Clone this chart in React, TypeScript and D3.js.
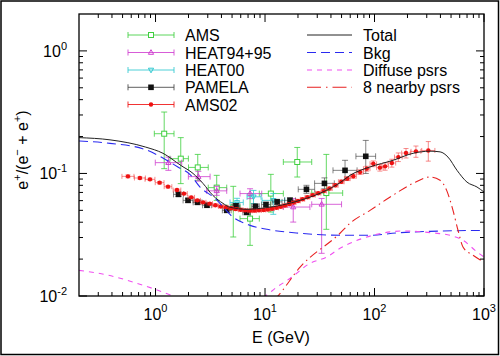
import React from 'react';
import * as d3 from 'd3';

// ---------- data ----------
// model curves: [E (GeV), e+/(e- + e+)]
const totalCurve: [number, number][] = [
  [0.2, 0.196], [0.384, 0.188], [0.814, 0.164], [1.17, 0.146], [1.71, 0.116], [2.2, 0.1],
  [2.71, 0.083], [3.35, 0.066], [4.13, 0.057], [4.79, 0.053], [6.85, 0.051], [10, 0.0524],
  [20.9, 0.0603], [36.6, 0.073], [48.4, 0.084], [59.7, 0.0965], [91, 0.113], [147.5, 0.128],
  [225, 0.146], [321, 0.152], [397, 0.15], [469, 0.136], [567, 0.106], [699, 0.085],
  [863, 0.0775], [1000, 0.0705],
];
const bkgCurve: [number, number][] = [
  [0.2, 0.184], [0.384, 0.176], [0.8, 0.157], [1.6, 0.113], [2.07, 0.098], [2.55, 0.0775],
  [3.5, 0.0626], [5.1, 0.044], [7.3, 0.0377], [10.4, 0.035], [20.9, 0.0325], [48.4, 0.0313],
  [91, 0.0313], [160, 0.0327], [321, 0.0337], [1000, 0.0343],
];
const diffuseCurve: [number, number][] = [
  [0.2, 0.0162], [0.367, 0.0148], [0.8, 0.0121], [1.22, 0.0106], [1.6, 0.0097], [3, 0.0085],
  [5, 0.0085], [9.6, 0.00977], [12.8, 0.0118], [16.9, 0.0139], [25.8, 0.0185], [36.6, 0.0208],
  [48.4, 0.0245], [59.7, 0.0269], [96.8, 0.0313], [182, 0.0339], [342, 0.0327], [489, 0.0313],
  [643, 0.0285], [863, 0.0229], [1000, 0.0208],
];
const nearbyCurve: [number, number][] = [
  [9, 0.0075], [12.8, 0.00977], [20.9, 0.0172], [48.4, 0.0325], [59.7, 0.0392], [91, 0.05],
  [139, 0.0642], [225, 0.083], [321, 0.0935], [397, 0.0879], [456, 0.0728], [521, 0.05],
  [579, 0.0344], [643, 0.0251], [794, 0.0215], [1000, 0.0189],
];

// data sets: [E, value, Elo, Ehi, vlo, vhi]
const amsData: number[][] = [
  [1.2, 0.211, 0.975, 1.475, 0.1094, 0.317],
  [1.7, 0.132, 1.356, 1.995, 0.0826, 0.196],
  [2.43, 0.112, 2.0, 3.03, 0.0879, 0.143],
  [3.62, 0.0766, 3.03, 4.47, 0.0603, 0.0965],
  [5.13, 0.0529, 4.47, 5.91, 0.0303, 0.0785],
  [7.3, 0.0428, 5.91, 8.87, 0.0259, 0.0685],
  [11.3, 0.0685, 8.87, 14.7, 0.0484, 0.0983],
  [19.7, 0.124, 14.7, 26.7, 0.0935, 0.163],
  [36.3, 0.0692, 26.7, 51.2, 0.035, 0.143],
];
const heat9495Data: number[][] = [
  [1.31, 0.1225, 0.995, 1.735, 0.106, 0.136],
  [2.46, 0.0942, 1.995, 3.15, 0.0866, 0.104],
  [3.62, 0.0721, 2.93, 4.47, 0.0663, 0.0785],
  [7.3, 0.0685, 5.91, 9.33, 0.0623, 0.075],
  [18.1, 0.0532, 14.7, 25.7, 0.0401, 0.0623],
  [32.9, 0.056, 26.7, 50, 0.0223, 0.0625],
];
const heat00Data: number[][] = [
  [5.55, 0.058, 4.79, 6.33, 0.0538, 0.0627],
  [7.85, 0.0645, 6.85, 9.2, 0.0568, 0.0727],
  [11.9, 0.0603, 9.4, 15.2, 0.0464, 0.0687],
];
// PAMELA: [E, value, log10 half-width, vlo, vhi]
const pamelaData: number[][] = [
  [1.62, 0.0675, 0.045, 0.065, 0.07],
  [1.98, 0.0603, 0.045, 0.058, 0.0627],
  [2.42, 0.0581, 0.04, 0.056, 0.0603],
  [2.95, 0.055, 0.04, 0.053, 0.057],
  [4.47, 0.05, 0.04, 0.048, 0.052],
  [5.43, 0.0544, 0.035, 0.052, 0.0567],
  [6.8, 0.0482, 0.035, 0.046, 0.0503],
  [8.19, 0.0539, 0.035, 0.0516, 0.0563],
  [10.2, 0.0557, 0.04, 0.0532, 0.0583],
  [12.9, 0.0586, 0.045, 0.0558, 0.0615],
  [16.9, 0.0603, 0.05, 0.0573, 0.0634],
  [23.9, 0.0742, 0.075, 0.0688, 0.08],
  [34.9, 0.083, 0.09, 0.075, 0.092],
  [53.8, 0.106, 0.11, 0.088, 0.128],
  [83.2, 0.138, 0.09, 0.1, 0.186],
];
// AMS02: [E, value, log10 half-width, symmetric error]
const ams02Data: number[][] = [
  [0.56, 0.0947, 0.055, 0.0025], [0.72, 0.0918, 0.05, 0.002], [0.89, 0.0895, 0.045, 0.002],
  [1.09, 0.0841, 0.04, 0.0018], [1.3, 0.078, 0.035, 0.0016], [1.57, 0.0732, 0.035, 0.0015],
  [1.82, 0.0685, 0.03, 0.0014], [2.12, 0.0638, 0.03, 0.0013], [2.41, 0.0603, 0.028, 0.0012],
  [2.72, 0.0581, 0.026, 0.0012], [3.13, 0.0567, 0.025, 0.0011], [3.52, 0.055, 0.024, 0.0011],
  [3.95, 0.0538, 0.022, 0.0011], [4.4, 0.053, 0.02, 0.001], [4.9, 0.052, 0.02, 0.001],
  [5.4, 0.0512, 0.02, 0.001], [6.0, 0.0505, 0.02, 0.001], [6.6, 0.05, 0.02, 0.001],
  [7.3, 0.0497, 0.02, 0.001], [8.0, 0.0497, 0.02, 0.001], [8.8, 0.05, 0.02, 0.001],
  [9.7, 0.0503, 0.02, 0.001], [10.6, 0.0508, 0.02, 0.001], [11.6, 0.0515, 0.02, 0.001],
  [12.7, 0.0525, 0.02, 0.0011], [13.9, 0.0535, 0.02, 0.0011], [15.2, 0.0548, 0.02, 0.0012],
  [16.7, 0.0562, 0.02, 0.0012], [18.3, 0.0578, 0.02, 0.0013], [20.0, 0.0596, 0.02, 0.0013],
  [22.0, 0.0615, 0.02, 0.0014], [24.4, 0.064, 0.022, 0.0015], [27.3, 0.0665, 0.022, 0.0016],
  [30.6, 0.069, 0.024, 0.0017], [34.4, 0.0718, 0.024, 0.0018], [38.8, 0.0753, 0.025, 0.002],
  [43.9, 0.08, 0.025, 0.0024], [49.7, 0.0855, 0.026, 0.0028], [56.4, 0.0907, 0.026, 0.0032],
  [64, 0.095, 0.028, 0.0036], [73.8, 0.1026, 0.03, 0.0045], [84.9, 0.1094, 0.03, 0.005],
  [97.5, 0.12, 0.03, 0.0065], [112, 0.1115, 0.03, 0.007], [125, 0.1143, 0.03, 0.008],
  [144, 0.1216, 0.035, 0.009], [165, 0.136, 0.035, 0.011], [194, 0.1467, 0.04, 0.013],
  [239, 0.1514, 0.045, 0.016], [310, 0.154, 0.06, 0.028],
];

const xMajor = [1, 10, 100, 1000];
const xMajorExp = ['0', '1', '2', '3'];
const yMajor = [1, 0.1, 0.01];
const yMajorExp = ['0', '-1', '-2'];

const leftLegend = ['AMS', 'HEAT94+95', 'HEAT00', 'PAMELA', 'AMS02'];
const rightLegend = ['Total', 'Bkg', 'Diffuse psrs', '8 nearby psrs'];

// ---------- chart ----------
const W = 500, H = 356;
const L = 79, R = 484, T = 14, B = 296;
const FONT = '"Liberation Sans", Arial, Helvetica, sans-serif';

const x = d3.scaleLog().domain([0.2, 1000]).range([L, R]);
const y = d3.scaleLog().domain([0.01, 2]).range([B, T]);

const lineGen = d3.line<[number, number]>()
  .x(d => x(d[0]))
  .y(d => y(d[1]))
  .curve(d3.curveMonotoneX);

const GREEN = '#3fcf3f';
const MAGENTA = '#d040d0';
const CYAN = '#30c8d0';
const BLACK = '#111';
const RED = '#ee1111';

type Row = { E: number; v: number; Elo: number; Ehi: number; vlo: number; vhi: number };

const toRows6 = (d: number[][]): Row[] => d.map(r => ({ E: r[0], v: r[1], Elo: r[2], Ehi: r[3], vlo: r[4], vhi: r[5] }));
const pamRows: Row[] = pamelaData.map(r => ({ E: r[0], v: r[1], Elo: r[0] / Math.pow(10, r[2]), Ehi: r[0] * Math.pow(10, r[2]), vlo: r[3], vhi: r[4] }));
const ams02Rows: Row[] = ams02Data.map(r => ({ E: r[0], v: r[1], Elo: r[0] / Math.pow(10, r[2]), Ehi: r[0] * Math.pow(10, r[2]), vlo: r[1] - r[3], vhi: r[1] + r[3] }));

function ErrBars({ rows, color, cap, op }: { rows: Row[]; color: string; cap: number; op: number }) {
  return (
    <g stroke={color} strokeWidth={1} strokeOpacity={op} fill="none">
      {rows.map((r, i) => {
        const cx = x(r.E), cy = y(r.v);
        const x0 = x(r.Elo), x1 = x(r.Ehi), y0 = y(r.vlo), y1 = y(r.vhi);
        return (
          <g key={i}>
            <line x1={x0} x2={x1} y1={cy} y2={cy} />
            <line x1={x0} x2={x0} y1={cy - cap} y2={cy + cap} />
            <line x1={x1} x2={x1} y1={cy - cap} y2={cy + cap} />
            <line x1={cx} x2={cx} y1={y0} y2={y1} />
            <line x1={cx - cap} x2={cx + cap} y1={y0} y2={y0} />
            <line x1={cx - cap} x2={cx + cap} y1={y1} y2={y1} />
          </g>
        );
      })}
    </g>
  );
}

function Marker({ kind, cx, cy }: { kind: string; cx: number; cy: number }) {
  if (kind === 'AMS') return <rect x={cx - 2.5} y={cy - 2.5} width={5} height={5} fill="white" stroke={GREEN} strokeWidth={1} />;
  if (kind === 'HEAT94+95') return <path d={`M${cx},${cy - 2.8}L${cx + 2.6},${cy + 1.8}L${cx - 2.6},${cy + 1.8}Z`} fill="none" stroke={MAGENTA} strokeWidth={1} />;
  if (kind === 'HEAT00') return <path d={`M${cx},${cy + 2.8}L${cx + 2.6},${cy - 1.8}L${cx - 2.6},${cy - 1.8}Z`} fill="none" stroke={CYAN} strokeWidth={1} />;
  if (kind === 'PAMELA') return <rect x={cx - 2.8} y={cy - 2.8} width={5.6} height={5.6} fill={BLACK} />;
  return <circle cx={cx} cy={cy} r={2.2} fill={RED} />;
}

export default function App() {
  const xMinor: number[] = [];
  [0.1, 1, 10, 100].forEach(dec => { for (let k = 2; k <= 9; k++) { const v = dec * k; if (v > 0.2 && v < 1000) xMinor.push(v); } });
  const yMinor: number[] = [];
  [0.01, 0.1, 1].forEach(dec => { for (let k = 2; k <= 9; k++) { const v = dec * k; if (v > 0.01 && v < 2) yMinor.push(v); } });

  const legY = [35, 52.5, 70, 87.3, 104.5];
  const legColors = [GREEN, MAGENTA, CYAN, '#444', RED];

  return (
    <svg width={W} height={H} style={{ position: 'absolute', left: 0, top: 0, background: 'white' }} fontFamily={FONT}>
      <defs>
        <clipPath id="plotclip"><rect x={L} y={T} width={R - L} height={B - T} /></clipPath>
      </defs>
      <rect x={0} y={0} width={W} height={H} fill="white" />
      <rect x={1} y={1} width={497.5} height={353.5} fill="none" stroke="#000" strokeWidth={1.5} />

      {/* data */}
      <g clipPath="url(#plotclip)">
        <ErrBars rows={toRows6(amsData)} color={GREEN} cap={3} op={0.8} />
        {toRows6(amsData).map((r, i) => <Marker key={i} kind="AMS" cx={x(r.E)} cy={y(r.v)} />)}
        <ErrBars rows={toRows6(heat9495Data)} color={MAGENTA} cap={3} op={0.8} />
        {toRows6(heat9495Data).map((r, i) => <Marker key={i} kind="HEAT94+95" cx={x(r.E)} cy={y(r.v)} />)}
        <ErrBars rows={toRows6(heat00Data)} color={CYAN} cap={3} op={0.8} />
        {toRows6(heat00Data).map((r, i) => <Marker key={i} kind="HEAT00" cx={x(r.E)} cy={y(r.v)} />)}
        <ErrBars rows={pamRows} color="#333" cap={3} op={0.6} />
        {pamRows.map((r, i) => <Marker key={i} kind="PAMELA" cx={x(r.E)} cy={y(r.v)} />)}
        <ErrBars rows={ams02Rows} color="#f03030" cap={2.5} op={0.55} />
        {ams02Rows.map((r, i) => <Marker key={i} kind="AMS02" cx={x(r.E)} cy={y(r.v)} />)}
      </g>

      {/* model curves */}
      <g clipPath="url(#plotclip)" fill="none">
        <path d={lineGen(totalCurve) || ''} stroke="#222" strokeWidth={1} />
        <path d={lineGen(bkgCurve) || ''} stroke="#2a2af0" strokeWidth={1.1} strokeDasharray="9,5" />
        <path d={lineGen(diffuseCurve) || ''} stroke="#f050f0" strokeWidth={1.1} strokeDasharray="5,5" />
        <path d={lineGen(nearbyCurve) || ''} stroke="#e82020" strokeWidth={1.1} strokeDasharray="9,4,1.5,4" />
      </g>

      {/* frame */}
      <rect x={L} y={T} width={R - L} height={B - T} fill="none" stroke="#000" strokeWidth={1.3} />

      {/* ticks */}
      <g stroke="#000" strokeWidth={1}>
        {xMajor.map((v, i) => (
          <g key={'xM' + i}>
            <line x1={x(v)} x2={x(v)} y1={B} y2={B - 8} />
            <line x1={x(v)} x2={x(v)} y1={T} y2={T + 8} />
          </g>
        ))}
        {xMinor.map((v, i) => (
          <g key={'xm' + i}>
            <line x1={x(v)} x2={x(v)} y1={B} y2={B - 4} />
            <line x1={x(v)} x2={x(v)} y1={T} y2={T + 4} />
          </g>
        ))}
        {yMajor.map((v, i) => (
          <g key={'yM' + i}>
            <line x1={L} x2={L + 8} y1={y(v)} y2={y(v)} />
            <line x1={R} x2={R - 8} y1={y(v)} y2={y(v)} />
          </g>
        ))}
        {yMinor.map((v, i) => (
          <g key={'ym' + i}>
            <line x1={L} x2={L + 4} y1={y(v)} y2={y(v)} />
            <line x1={R} x2={R - 4} y1={y(v)} y2={y(v)} />
          </g>
        ))}
      </g>

      {/* tick labels */}
      <g fill="#000">
        {xMajor.map((v, i) => (
          <text key={'xl' + i} x={x(v)} y={320} textAnchor="middle" fontSize={16}>
            10<tspan fontSize={11} dy={-8}>{xMajorExp[i]}</tspan>
          </text>
        ))}
        {yMajor.map((v, i) => (
          <text key={'yl' + i} x={67} y={y(v) + 6} textAnchor="end" fontSize={16}>
            10<tspan fontSize={11} dy={-7}>{yMajorExp[i]}</tspan>
          </text>
        ))}
      </g>

      {/* axis titles */}
      <text x={281} y={343} textAnchor="middle" fontSize={16}>E (GeV)</text>
      <text transform="translate(28,150) rotate(-90)" textAnchor="middle" fontSize={16}>
        e<tspan fontSize={11} dy={-7}>+</tspan><tspan dy={7}>/(e</tspan><tspan fontSize={11} dy={-7}>−</tspan><tspan dy={7}> + e</tspan><tspan fontSize={11} dy={-7}>+</tspan><tspan dy={7}>)</tspan>
      </text>

      {/* left legend */}
      {leftLegend.map((name, i) => {
        const ly = legY[i];
        const c = legColors[i];
        return (
          <g key={'ll' + i}>
            <g stroke={c} strokeWidth={1} strokeOpacity={0.85}>
              <line x1={128} x2={174} y1={ly} y2={ly} />
              <line x1={128} x2={128} y1={ly - 3} y2={ly + 3} />
              <line x1={174} x2={174} y1={ly - 3} y2={ly + 3} />
            </g>
            <Marker kind={name} cx={151} cy={ly} />
            <text x={185} y={ly + 6} fontSize={16}>{name}</text>
          </g>
        );
      })}

      {/* right legend */}
      <g fill="none" strokeWidth={1.1}>
        <line x1={307} x2={352} y1={legY[0]} y2={legY[0]} stroke="#222" strokeWidth={1} />
        <line x1={307} x2={352} y1={legY[1]} y2={legY[1]} stroke="#2a2af0" strokeDasharray="9,5" />
        <line x1={307} x2={352} y1={legY[2]} y2={legY[2]} stroke="#f050f0" strokeDasharray="5,5" />
        <line x1={307} x2={352} y1={legY[3]} y2={legY[3]} stroke="#e82020" strokeDasharray="14,5,1.5,5" />
      </g>
      {rightLegend.map((name, i) => (
        <text key={'rl' + i} x={363} y={legY[i] + 6} fontSize={16}>{name}</text>
      ))}
    </svg>
  );
}
